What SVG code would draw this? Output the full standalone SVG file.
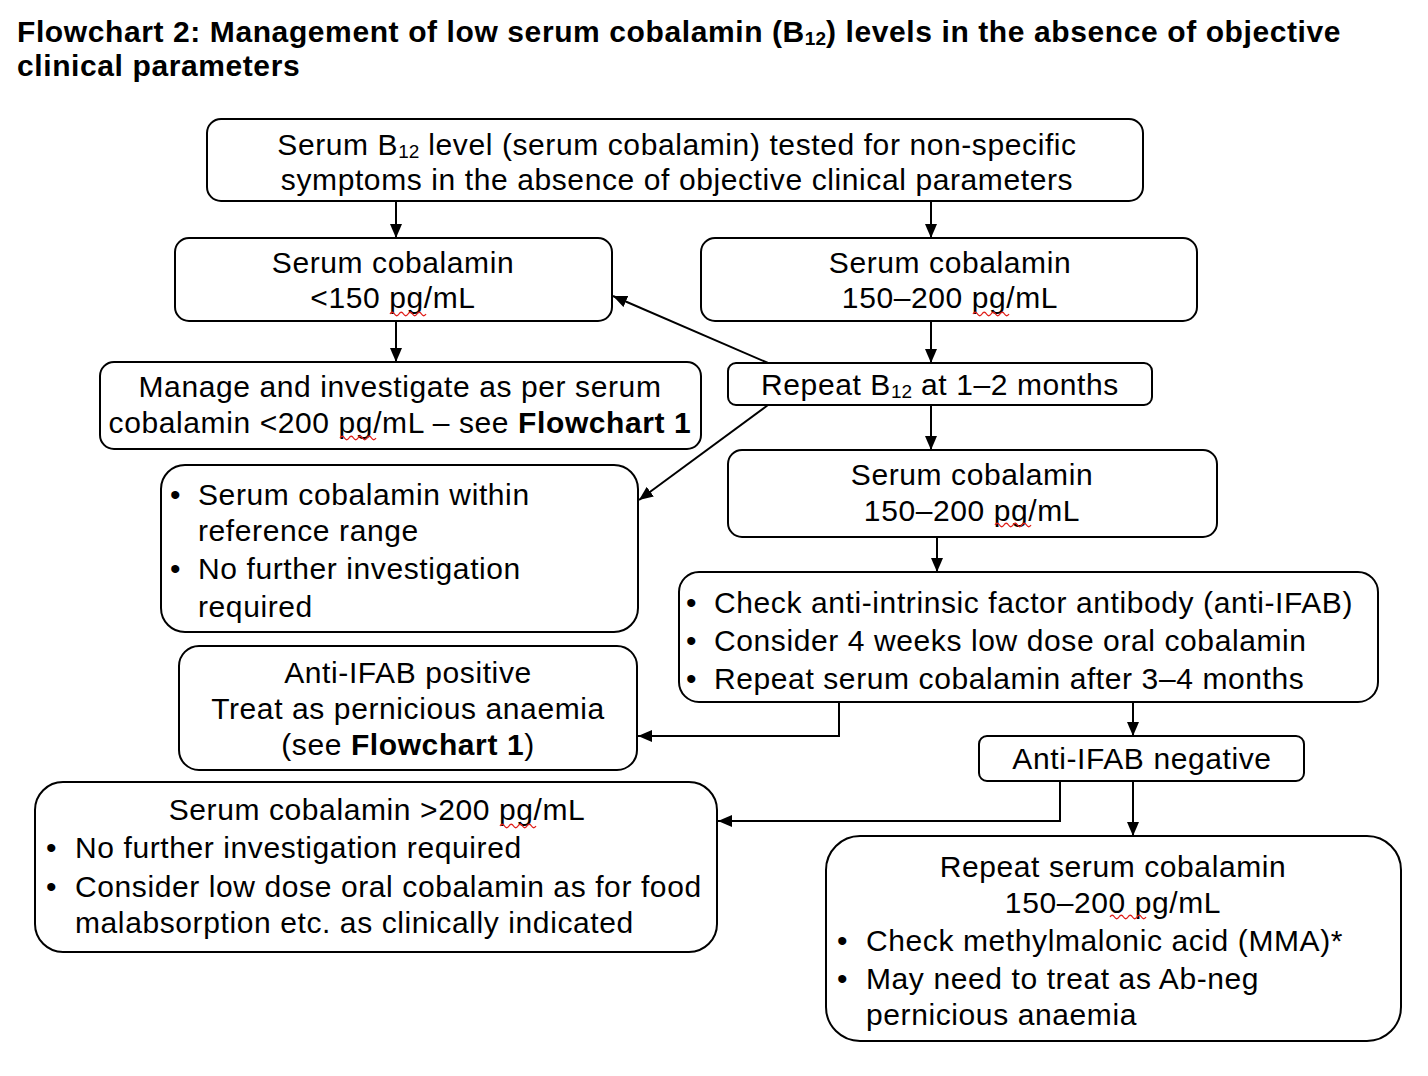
<svg xmlns="http://www.w3.org/2000/svg" width="1428" height="1076" viewBox="0 0 1428 1076">
<defs>
<marker id="ah" markerWidth="14" markerHeight="12" refX="14" refY="6" orient="auto" markerUnits="userSpaceOnUse">
<path d="M0,0 L14,6 L0,12 Z" fill="#000"/>
</marker>
<path id="sq" d="M0,0 q2.25,-3.5 4.5,0 t4.5,0 t4.5,0 t4.5,0 t4.5,0 t4.5,0 t4.5,0 t4.5,0" fill="none" stroke="#e0201b" stroke-width="1.3"/>
</defs>
<style>
text{font-family:"Liberation Sans",Arial,sans-serif;font-size:30px;letter-spacing:0.6px;fill:#000}
.t{font-size:30px;font-weight:bold;letter-spacing:0.6px}
.c{text-anchor:middle}
.b{font-weight:bold}
.s{font-size:19px;letter-spacing:0}
rect{fill:#fff;stroke:#000;stroke-width:2}
.cn line,.cn polyline{fill:none;stroke:#000;stroke-width:2}
</style>
<rect x="0" y="0" width="1428" height="1076" style="stroke:none"/>
<g id="title">
<text class="t" x="17" y="42">Flowchart 2: Management of low serum cobalamin (B<tspan class="s" dy="3">12</tspan><tspan dy="-3">) levels in the absence of objective</tspan></text>
<text class="t" x="17" y="76">clinical parameters</text>
</g>
<g class="cn" id="connectors">
<line x1="396" y1="201" x2="396" y2="238" marker-end="url(#ah)"/>
<line x1="931" y1="201" x2="931" y2="238" marker-end="url(#ah)"/>
<line x1="396" y1="321" x2="396" y2="362" marker-end="url(#ah)"/>
<line x1="931" y1="321" x2="931" y2="363" marker-end="url(#ah)"/>
<line x1="768" y1="363" x2="613" y2="296" marker-end="url(#ah)"/>
<line x1="768" y1="405" x2="639" y2="500" marker-end="url(#ah)"/>
<line x1="931" y1="405" x2="931" y2="450" marker-end="url(#ah)"/>
<line x1="937" y1="537" x2="937" y2="572" marker-end="url(#ah)"/>
<polyline points="839,702 839,736 638,736" marker-end="url(#ah)"/>
<line x1="1133" y1="702" x2="1133" y2="736" marker-end="url(#ah)"/>
<polyline points="1060,781 1060,821 718,821" marker-end="url(#ah)"/>
<line x1="1133" y1="781" x2="1133" y2="836" marker-end="url(#ah)"/>
</g>
<g id="n1">
<rect x="207" y="119" width="936" height="82" rx="14"/>
<text class="c" x="677" y="155">Serum B<tspan class="s" dy="3">12</tspan><tspan dy="-3"> level (serum cobalamin) tested for non-specific</tspan></text>
<text class="c" x="677" y="190">symptoms in the absence of objective clinical parameters</text>
</g>
<g id="n2">
<rect x="175" y="238" width="437" height="83" rx="14"/>
<text class="c" x="393" y="273">Serum cobalamin</text>
<text class="c" x="393" y="308">&lt;150 pg/mL</text>
</g>
<g id="n3">
<rect x="701" y="238" width="496" height="83" rx="14"/>
<text class="c" x="950" y="273">Serum cobalamin</text>
<text class="c" x="950" y="308">150–200 pg/mL</text>
</g>
<g id="n4">
<rect x="100" y="362" width="601" height="87" rx="14"/>
<text class="c" x="400" y="397">Manage and investigate as per serum</text>
<text class="c" x="400" y="433">cobalamin &lt;200 pg/mL – see <tspan class="b">Flowchart 1</tspan></text>
</g>
<g id="n5">
<rect x="728" y="363" width="424" height="42" rx="8"/>
<text class="c" x="940" y="395">Repeat B<tspan class="s" dy="3">12</tspan><tspan dy="-3"> at 1–2 months</tspan></text>
</g>
<g id="n6">
<rect x="161" y="465" width="477" height="167" rx="24"/>
<text x="170" y="505">•</text><text x="198" y="505">Serum cobalamin within</text>
<text x="198" y="541">reference range</text>
<text x="170" y="579">•</text><text x="198" y="579">No further investigation</text>
<text x="198" y="617">required</text>
</g>
<g id="n7">
<rect x="728" y="450" width="489" height="87" rx="14"/>
<text class="c" x="972" y="485">Serum cobalamin</text>
<text class="c" x="972" y="521">150–200 pg/mL</text>
</g>
<g id="n8">
<rect x="679" y="572" width="699" height="130" rx="20"/>
<text x="686" y="613">•</text><text x="714" y="613">Check anti-intrinsic factor antibody (anti-IFAB)</text>
<text x="686" y="651">•</text><text x="714" y="651">Consider 4 weeks low dose oral cobalamin</text>
<text x="686" y="689">•</text><text x="714" y="689">Repeat serum cobalamin after 3–4 months</text>
</g>
<g id="n9">
<rect x="179" y="646" width="458" height="124" rx="20"/>
<text class="c" x="408" y="683">Anti-IFAB positive</text>
<text class="c" x="408" y="719">Treat as pernicious anaemia</text>
<text class="c" x="408" y="755">(see <tspan class="b">Flowchart 1</tspan>)</text>
</g>
<g id="n10">
<rect x="979" y="736" width="325" height="45" rx="8"/>
<text class="c" x="1142" y="769">Anti-IFAB negative</text>
</g>
<g id="n11">
<rect x="35" y="782" width="682" height="170" rx="28"/>
<text class="c" x="377" y="820">Serum cobalamin &gt;200 pg/mL</text>
<text x="46" y="858">•</text><text x="75" y="858">No further investigation required</text>
<text x="46" y="897">•</text><text x="75" y="897">Consider low dose oral cobalamin as for food</text>
<text x="75" y="933">malabsorption etc. as clinically indicated</text>
</g>
<g id="n12">
<rect x="826" y="836" width="575" height="205" rx="34"/>
<text class="c" x="1113" y="877">Repeat serum cobalamin</text>
<text class="c" x="1113" y="913">150–200 pg/mL</text>
<text x="837" y="951">•</text><text x="866" y="951">Check methylmalonic acid (MMA)*</text>
<text x="837" y="989">•</text><text x="866" y="989">May need to treat as Ab-neg</text>
<text x="866" y="1025">pernicious anaemia</text>
</g>
<g id="squiggles">
<use href="#sq" x="390" y="314"/>
<use href="#sq" x="973" y="314"/>
<use href="#sq" x="340" y="438"/>
<use href="#sq" x="995" y="525"/>
<use href="#sq" x="500" y="826"/>
<use href="#sq" x="1110" y="917"/>
</g>
</svg>
